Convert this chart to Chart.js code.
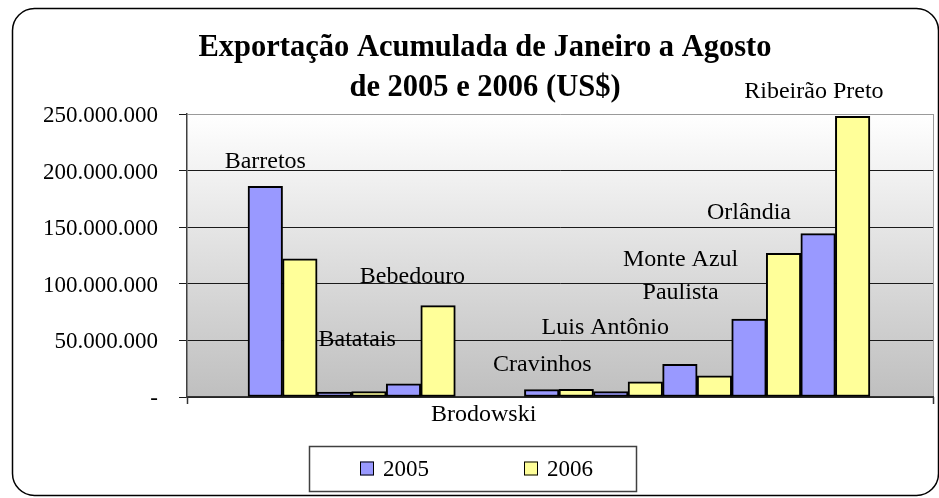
<!DOCTYPE html>
<html>
<head>
<meta charset="utf-8">
<script src="https://cdn.jsdelivr.net/npm/chart.js@4.4.0/dist/chart.umd.min.js"></script>
<style>
  html, body { margin: 0; padding: 0; background: #fff; }
  #wrap { width: 939px; height: 498px; position: relative; }
</style>
</head>
<body>
<div id="wrap"><canvas id="exportChart"></canvas></div>
<script>
const categories = ['Barretos', 'Batatais', 'Bebedouro', 'Brodowski', 'Cravinhos',
  'Luis Antônio', 'Monte Azul Paulista', 'Orlândia', 'Ribeirão Preto'];
const exports2005 = [186000000, 4300000, 11700000, 0, 6500000, 4700000, 28900000, 68900000, 144300000];
const exports2006 = [122000000, 4700000, 80700000, 0, 6800000, 13300000, 18600000, 127000000, 248000000];
const yTicks = [0, 50000000, 100000000, 150000000, 200000000, 250000000];
const seriesNames = ['2005', '2006'];

// where each city name sits, in chart units (category offset, value)
const labelLines = [['Barretos'], ['Batatais'], ['Bebedouro'], ['Brodowski'], ['Cravinhos'],
  ['Luis Antônio'], ['Monte Azul', 'Paulista'], ['Orlândia'], ['Ribeirão Preto']];
const labelAnchors = [[-0.25, 207600000], [0.08, 50400000], [-0.12, 106000000], [-0.09, -15900000],
  [-0.24, 28300000], [-0.33, 61000000], [-0.24, 106400000], [-0.25, 162500000], [-0.31, 269400000]];

const SERIF = '"Liberation Serif", "Times New Roman", serif';

function fmt(v) {
  if (v === 0) return '-';
  return String(v).replace(/\B(?=(\d{3})+(?!\d))/g, '.');
}

const plotDecor = {
  id: 'plotDecor',
  beforeDraw(chart) {
    const { ctx, chartArea: a } = chart;
    ctx.save();
    const g = ctx.createLinearGradient(0, a.top, 0, a.bottom);
    g.addColorStop(0, '#ffffff');
    g.addColorStop(1, '#bfbfbf');
    ctx.fillStyle = g;
    ctx.fillRect(a.left, a.top, a.right - a.left, a.bottom - a.top);
    // right edge of plot
    ctx.strokeStyle = '#9a9a9a';
    ctx.lineWidth = 1;
    ctx.beginPath();
    ctx.moveTo(Math.round(a.right) + 0.5, a.top);
    ctx.lineTo(Math.round(a.right) + 0.5, a.bottom);
    ctx.stroke();
    ctx.restore();
  },
  afterDatasetsDraw(chart) {
    const { ctx, chartArea: a, scales: { x, y } } = chart;
    ctx.save();
    // short ticks below the axis at both ends
    ctx.strokeStyle = '#333';
    ctx.lineWidth = 1.5;
    [a.left, a.right].forEach(px => {
      ctx.beginPath();
      ctx.moveTo(Math.round(px) + 0.5, a.bottom);
      ctx.lineTo(Math.round(px) + 0.5, a.bottom + 7);
      ctx.stroke();
    });
    // city names
    ctx.fillStyle = '#000';
    ctx.font = '24px ' + SERIF;
    ctx.textAlign = 'center';
    ctx.textBaseline = 'middle';
    labelLines.forEach((lines, i) => {
      const px = x.getPixelForValue(i + labelAnchors[i][0]);
      const py = y.getPixelForValue(labelAnchors[i][1]);
      const top = py - (lines.length - 1) * 33 / 2;
      lines.forEach((t, k) => ctx.fillText(t, px, top + k * 33));
    });
    ctx.restore();
  },
  afterDraw(chart) {
    const { ctx } = chart;
    ctx.save();
    // outer frame
    ctx.strokeStyle = '#000';
    ctx.lineWidth = 1.5;
    ctx.beginPath();
    ctx.roundRect(12.5, 8.5, 926, 487, 22);
    ctx.stroke();
    // legend box
    const bx = 309, by = 446, bw = 327, bh = 45;
    ctx.fillStyle = '#fff';
    ctx.fillRect(bx, by, bw, bh);
    ctx.strokeStyle = '#404040';
    ctx.lineWidth = 1.5;
    ctx.strokeRect(bx + 0.5, by + 0.5, bw, bh);
    ctx.font = '23px ' + SERIF;
    ctx.textBaseline = 'middle';
    ctx.textAlign = 'left';
    const starts = [360, 524];
    chart.data.datasets.forEach((ds, i) => {
      const sx = starts[i], sy = by + bh / 2;
      ctx.fillStyle = ds.backgroundColor;
      ctx.fillRect(sx, sy - 7, 14, 14);
      ctx.strokeStyle = '#000';
      ctx.lineWidth = 1;
      ctx.strokeRect(sx + 0.5, sy - 6.5, 13, 13);
      ctx.fillStyle = '#000';
      ctx.fillText(ds.label, sx + 23, sy + 1);
    });
    ctx.restore();
  }
};

const xMin = -1.383;
const xMax = 9.413;

new Chart(document.getElementById('exportChart'), {
  type: 'bar',
  data: {
    datasets: [
      {
        label: seriesNames[0],
        data: exports2005.map((v, i) => ({ x: i, y: v })),
        backgroundColor: '#9999ff',
        borderColor: '#000',
        borderWidth: 2,
        borderSkipped: false
      },
      {
        label: seriesNames[1],
        data: exports2006.map((v, i) => ({ x: i, y: v })),
        backgroundColor: '#ffff99',
        borderColor: '#000',
        borderWidth: 2,
        borderSkipped: false
      }
    ]
  },
  options: {
    responsive: true,
    maintainAspectRatio: false,
    animation: false,
    categoryPercentage: 1,
    barPercentage: 1,
    layout: { padding: { left: 37, right: 6, top: 8, bottom: 0 } },
    plugins: {
      legend: { display: false },
      tooltip: { enabled: false },
      title: {
        display: true,
        text: ['Exportação Acumulada de Janeiro a Agosto', 'de 2005 e 2006 (US$)'],
        color: '#000',
        font: { family: SERIF, size: 30.5, weight: 'bold', lineHeight: '40px' },
        padding: { top: 20, bottom: 6 }
      }
    },
    scales: {
      x: {
        type: 'linear',
        min: xMin,
        max: xMax,
        offset: false,
        afterBuildTicks(s) { s.ticks = categories.map((c, i) => ({ value: i })); },
        ticks: { display: false },
        grid: { display: false, offset: false },
        border: { color: '#333', width: 1.5 },
        afterFit(s) { s.height = 101; }
      },
      y: {
        min: 0,
        max: 250000000,
        afterBuildTicks(s) { s.ticks = yTicks.map(v => ({ value: v })); },
        ticks: {
          callback: v => fmt(v),
          color: '#000',
          font: { family: SERIF, size: 23 },
          padding: 21,
          labelOffset: 2
        },
        grid: {
          color: c => (c.tick && c.tick.value === 250000000 ? '#9a9a9a' : '#1a1a1a'),
          tickColor: '#1a1a1a',
          tickLength: 8,
          lineWidth: 1
        },
        border: { color: '#404040', width: 1.5 },
        afterFit(s) { s.width = 150; }
      }
    }
  },
  plugins: [plotDecor]
});
</script>
</body>
</html>
